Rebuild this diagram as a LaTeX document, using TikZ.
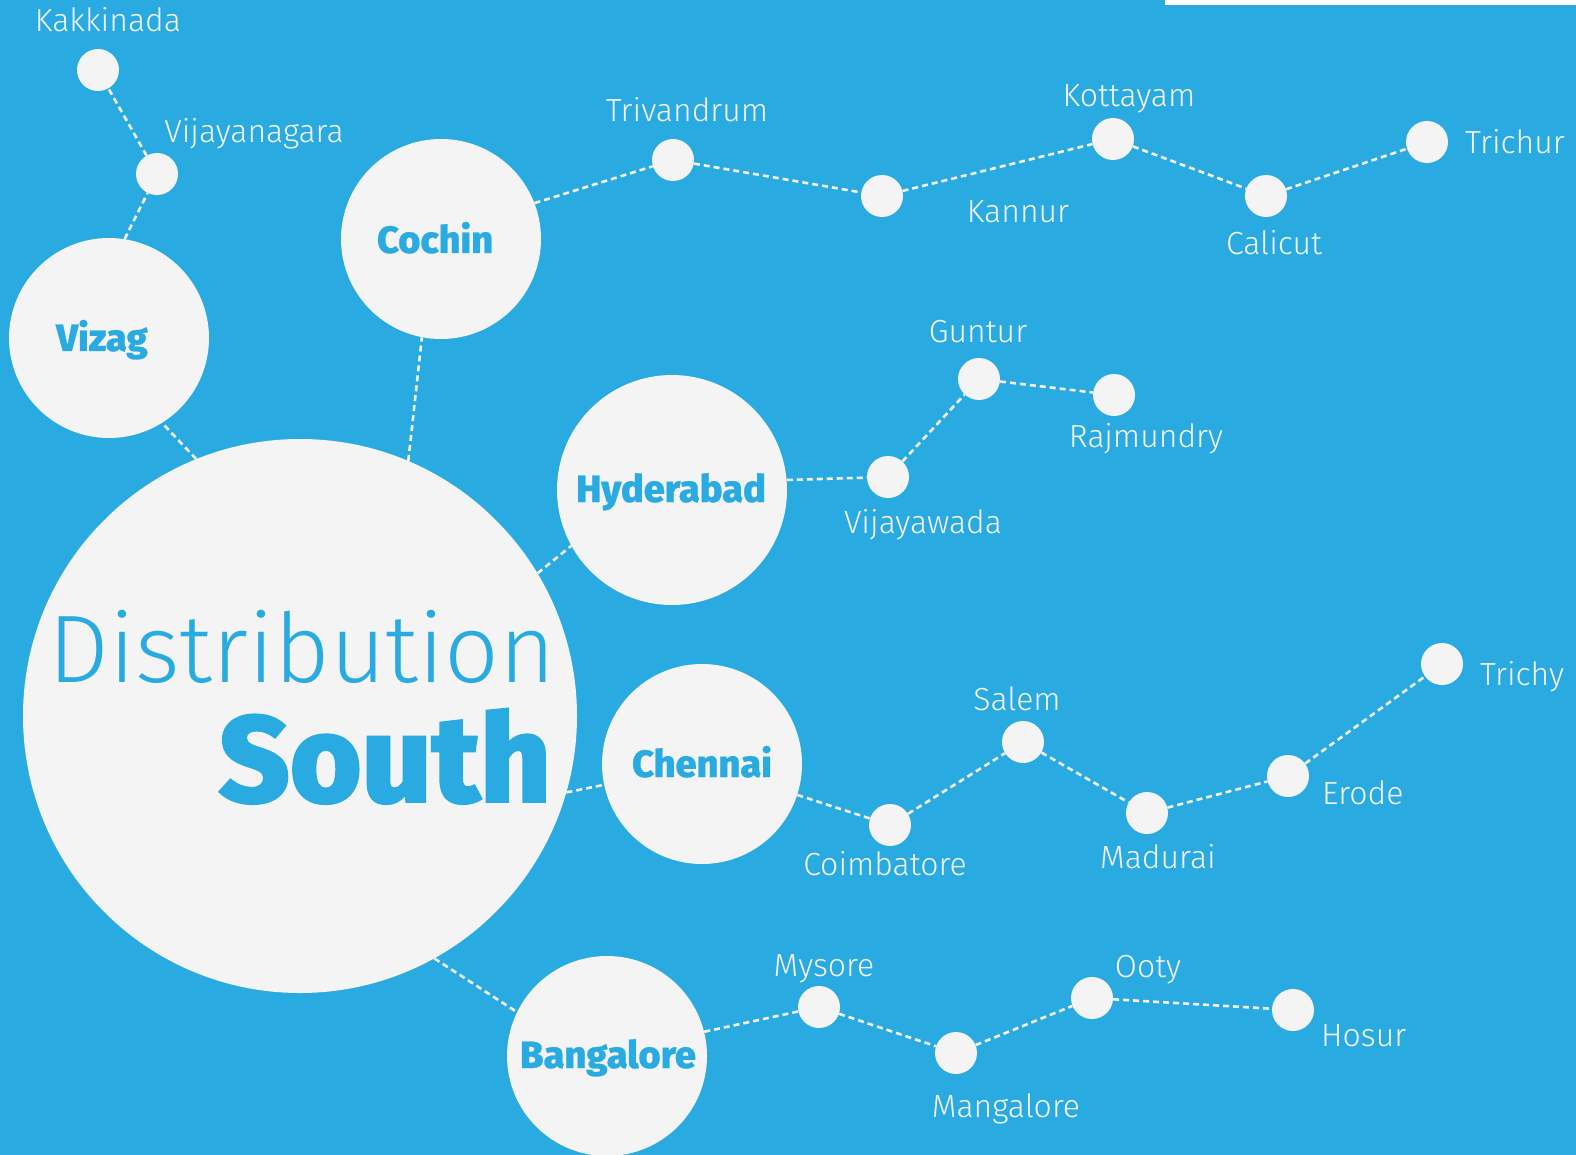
\documentclass[tikz,border=0pt]{standalone}
\usepackage{fontspec}
\setmainfont{Fira Sans}
\newfontfamily\firalight{Fira Sans Light}
\newfontfamily\firaxbold[FakeBold=0.6]{Fira Sans ExtraBold}
\newfontfamily\firablack[FakeBold=1.4]{Fira Sans ExtraBold}
\definecolor{skyblue}{HTML}{29AAE1}
\definecolor{chalk}{HTML}{F4F4F4}

\begin{document}
\begin{tikzpicture}[x=1pt,y=-1pt,
    hub/.style={circle,fill=chalk,inner sep=0pt,minimum size=200pt},
    dot/.style={circle,fill=chalk,inner sep=0pt,minimum size=42pt},
    hubname/.style={text=skyblue,font=\firaxbold\fontsize{38}{38}\selectfont,anchor=base,inner sep=0pt},
    town/.style={text=chalk,font=\firalight\fontsize{32}{32}\selectfont,anchor=base,inner sep=0pt},
    link/.style={draw=chalk,line width=2.6pt,dash pattern=on 6pt off 4pt}]
        \useasboundingbox (0,0) rectangle (1576,1155);
        \fill[skyblue] (0,0) rectangle (1576,1155);
        \fill[white] (1165,0) rectangle (1576,5);
        % big circles
        \node[hub,minimum size=554pt] (south) at (300,716) {};
        \node[hub] (vizag) at (109,338) {};
        \node[hub] (cochin) at (441,239) {};
        \node[hub,minimum size=230pt] (hyderabad) at (672,490) {};
        \node[hub] (chennai) at (702,764) {};
        \node[hub] (bangalore) at (607,1056) {};
        \node[anchor=base,inner sep=0pt,text=skyblue,font=\firalight\fontsize{96}{96}\selectfont] (tdist) at (302,682) {Distribution};
        \node[anchor=base east,inner sep=0pt,text=skyblue,font=\firablack\fontsize{123}{123}\selectfont] (tsouth) at (551,802) {South};
        \node[hubname] (tvizag) at (102,351) {Vizag};
        \node[hubname] (tcochin) at (435,253) {Cochin};
        \node[hubname] (thyderabad) at (671,502) {Hyderabad};
        \node[hubname] (tchennai) at (702,777) {Chennai};
        \node[hubname] (tbangalore) at (608,1068) {Bangalore};
        % small dots
        \node[dot] (kakkinada) at (98,70) {};
        \node[dot] (vijayanagara) at (157,174) {};
        \node[dot] (trivandrum) at (673,160) {};
        \node[dot] (kannur) at (882,196) {};
        \node[dot] (kottayam) at (1113,139) {};
        \node[dot] (calicut) at (1266,196) {};
        \node[dot] (trichur) at (1427,142) {};
        \node[dot] (vijayawada) at (888,477) {};
        \node[dot] (guntur) at (979,379) {};
        \node[dot] (rajmundry) at (1114,395) {};
        \node[dot] (coimbatore) at (890,825) {};
        \node[dot] (salem) at (1023,742) {};
        \node[dot] (madurai) at (1147,813) {};
        \node[dot] (erode) at (1288,776) {};
        \node[dot] (trichy) at (1442,664) {};
        \node[dot] (mysore) at (819,1007) {};
        \node[dot] (mangalore) at (956,1053) {};
        \node[dot] (ooty) at (1092,998) {};
        \node[dot] (hosur) at (1293,1010) {};
        % town names
        \node[town] (lkakkinada) at (108,32) {Kakkinada};
        \node[town] (lvijayanagara) at (254,143) {Vijayanagara};
        \node[town] (ltrivandrum) at (687,122) {Trivandrum};
        \node[town] (lkannur) at (1018,223) {Kannur};
        \node[town] (lkottayam) at (1129,107) {Kottayam};
        \node[town] (lcalicut) at (1274,255) {Calicut};
        \node[town,anchor=base west] (ltrichur) at (1465,154) {Trichur};
        \node[town] (lguntur) at (978,342) {Guntur};
        \node[town] (lrajmundry) at (1146,447) {Rajmundry};
        \node[town] (lvijayawada) at (923,533) {Vijayawada};
        \node[town] (lsalem) at (1017,710) {Salem};
        \node[town] (lcoimbatore) at (885,875) {Coimbatore};
        \node[town] (lmadurai) at (1158,868) {Madurai};
        \node[town,anchor=base west] (lerode) at (1322,804) {Erode};
        \node[town,anchor=base west] (ltrichy) at (1480,685) {Trichy};
        \node[town] (lmysore) at (824,976) {Mysore};
        \node[town] (looty) at (1148,977) {Ooty};
        \node[town,anchor=base west] (lhosur) at (1321,1046) {Hosur};
        \node[town] (lmangalore) at (1006,1117) {Mangalore};
        % dotted routes
        \draw[link] (south.112) -- (vizag.302);
        \draw[link] (vizag.81) -- (vijayanagara) -- (kakkinada);
        \draw[link] (south.67) -- (cochin.259);
        \draw[link] (cochin.21) -- (trivandrum) -- (kannur) -- (kottayam) -- (calicut) -- (trichur);
        \draw[link] (south.31) -- (hyderabad.209);
        \draw[link] (hyderabad.5) -- (vijayawada) -- (guntur) -- (rajmundry);
        \draw[link] (south.-16) -- (chennai.192);
        \draw[link] (chennai.-18) -- (coimbatore) -- (salem) -- (madurai) -- (erode) -- (trichy);
        \draw[link] (south.-61) -- (bangalore.154);
        \draw[link] (bangalore.14) -- (mysore) -- (mangalore) -- (ooty) -- (hosur);
\end{tikzpicture}
\end{document}
